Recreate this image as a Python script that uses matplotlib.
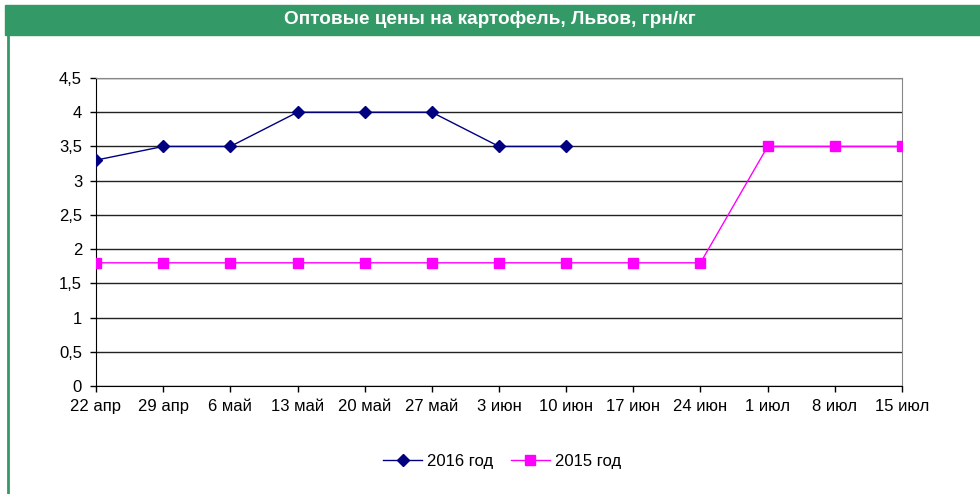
import matplotlib.pyplot as plt
from matplotlib.patches import Rectangle
from matplotlib.lines import Line2D

plt.rcParams['font.family'] = ['Liberation Sans', 'DejaVu Sans']

dates = ['22 апр', '29 апр', '6 май', '13 май', '20 май', '27 май', '3 июн',
         '10 июн', '17 июн', '24 июн', '1 июл', '8 июл', '15 июл']
y2016 = [3.3, 3.5, 3.5, 4, 4, 4, 3.5, 3.5]
y2015 = [1.8, 1.8, 1.8, 1.8, 1.8, 1.8, 1.8, 1.8, 1.8, 1.8, 3.5, 3.5, 3.5]
yticks = [0, 0.5, 1, 1.5, 2, 2.5, 3, 3.5, 4, 4.5]
title = 'Оптовые цены на картофель, Львов, грн/кг'

W, H = 980, 494
fig = plt.figure(figsize=(W / 100, H / 100), dpi=100)

# green title bar and left frame line
fig.patches.append(Rectangle((5 / W, 1 - 35 / H), 1 - 5 / W, 30 / H,
                             transform=fig.transFigure, color='#339966', zorder=0))
fig.text(0.5, 1 - 20 / H, title, color='white', fontsize=13.7, fontweight='bold',
         ha='center', va='center')
fig.lines.append(Line2D([8 / W, 8 / W], [0, 1 - 35 / H], transform=fig.transFigure,
                        color='#339966', lw=2))

ax = fig.add_axes([96 / W, 1 - 386 / H, (902 - 96) / W, (386 - 78) / H])
x = list(range(len(dates)))
ax.plot(x[:len(y2016)], y2016, color='#000080', lw=1, marker='D', ms=6,
        label='2016 год', zorder=3)
ax.plot(x, y2015, color='#FF00FF', lw=1, marker='s', ms=7,
        label='2015 год', zorder=3)

ax.set_xlim(0, len(dates) - 1)
ax.set_ylim(0, 4.5)
ax.set_xticks(x)
ax.set_xticklabels(dates, fontsize=12)
ax.set_yticks(yticks)
ax.set_yticklabels([str(v).replace('.', ',').rstrip('0').rstrip(',') if v else '0'
                    for v in yticks], fontsize=12)
ax.tick_params(direction='out', length=4, width=1, color='black')
ax.tick_params(axis='x', pad=5)
ax.tick_params(axis='y', pad=6)
ax.yaxis.grid(True, color='#222222', lw=1)
ax.set_axisbelow(True)
for side in ['left', 'bottom']:
    ax.spines[side].set_color('black')
ax.spines['right'].set_color('#888888')
ax.spines['top'].set_color('#888888')

ax.legend(loc='center', bbox_to_anchor=(502 / W, 1 - 461 / H), bbox_transform=fig.transFigure,
          ncol=2, frameon=False, fontsize=12, handlelength=2.3, columnspacing=1.1,
          handletextpad=0.3)

fig.savefig('out.png', dpi=100)
